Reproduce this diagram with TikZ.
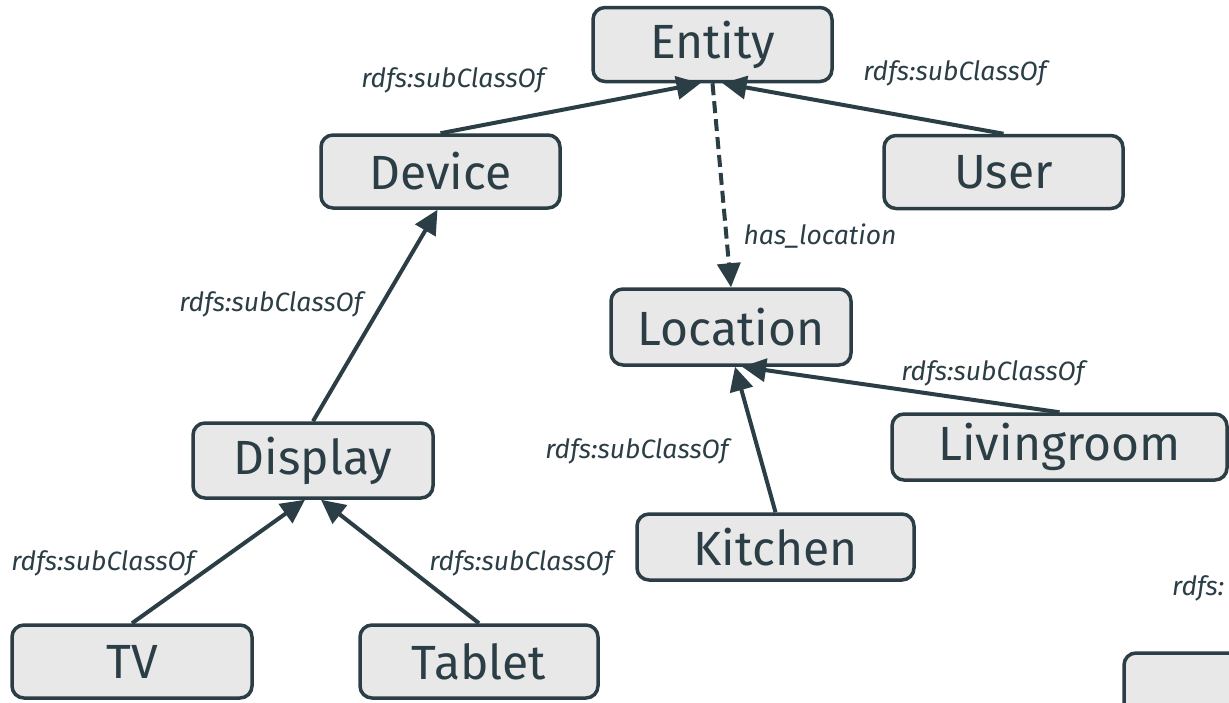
\documentclass[tikz,border=0pt]{standalone}
\usepackage{fontspec}
\setmainfont{Fira Sans}
\usetikzlibrary{arrows.meta}
\definecolor{ink}{HTML}{2C3E45}
\definecolor{boxfill}{HTML}{E8E8E8}
\tikzset{
  cls/.style={draw=ink, fill=boxfill, line width=3.5pt, rounded corners=12pt,
    text=ink, font=\fontsize{48}{56}\selectfont, inner sep=0pt, anchor=center},
  lbl/.style={text=ink, font=\fontsize{26.5}{30}\selectfont\itshape, inner sep=0pt},
  sub/.style={draw=ink, line width=4pt, -{Triangle[length=24pt,width=23pt]}},
  rel/.style={sub, dash pattern=on 12pt off 6pt},
}
\begin{document}
\begin{tikzpicture}[x=1pt,y=-1pt]
\clip (0,0) rectangle (1229,702);
\fill[white] (0,0) rectangle (1229,702);
\node[cls, minimum width=239pt, minimum height=74pt] (entity) at (712.5,44.5) {Entity};
\node[cls, minimum width=239pt, minimum height=73pt] (device) at (440.5,171.5) {Device};
\node[cls, minimum width=239pt, minimum height=73pt] (user) at (1003.5,172) {User};
\node[cls, minimum width=240pt, minimum height=76pt] (location) at (731,327) {Location};
\node[cls, minimum width=240pt, minimum height=75pt] (display) at (313,460.5) {Display};
\node[cls, minimum width=335pt, minimum height=66pt] (livingroom) at (1059.5,447) {Livingroom};
\node[cls, minimum width=277pt, minimum height=66pt] (kitchen) at (775.5,547) {Kitchen};
\node[cls, minimum width=240pt, minimum height=73pt] (tv) at (132,661.5) {TV};
\node[cls, minimum width=238pt, minimum height=73pt] (tablet) at (479,661.5) {Tablet};
\node[cls, minimum width=240pt, minimum height=74pt] (hidden) at (1244,690) {};

\draw[sub] (device.north) -- ([xshift=-12pt]entity.south);
\draw[sub] (user.north) -- ([xshift=10pt]entity.south);
\draw[rel] (entity.south) -- (location.north);
\draw[sub] (display.north) -- ([xshift=-3pt]device.south);
\draw[sub] (tv.north) -- ([xshift=-8pt]display.south);
\draw[sub] (tablet.north) -- ([xshift=8pt]display.south);
\draw[sub] (kitchen.north) -- ([xshift=4pt]location.south);
\draw[sub] (livingroom.north) -- ([xshift=11pt]location.south);

\node[lbl] (l1) at (453,80) {rdfs:subClassOf};
\node[lbl] (l2) at (955,73) {rdfs:subClassOf};
\node[lbl] (l3) at (820,236) {has\_location};
\node[lbl] (l4) at (271,304) {rdfs:subClassOf};
\node[lbl] (l5) at (993,373) {rdfs:subClassOf};
\node[lbl] (l6) at (637,451) {rdfs:subClassOf};
\node[lbl] (l7) at (103,563) {rdfs:subClassOf};
\node[lbl] (l8) at (521,563) {rdfs:subClassOf};
\node[lbl, anchor=west] (l9) at (1172,588) {rdfs:};
\end{tikzpicture}
\end{document}
